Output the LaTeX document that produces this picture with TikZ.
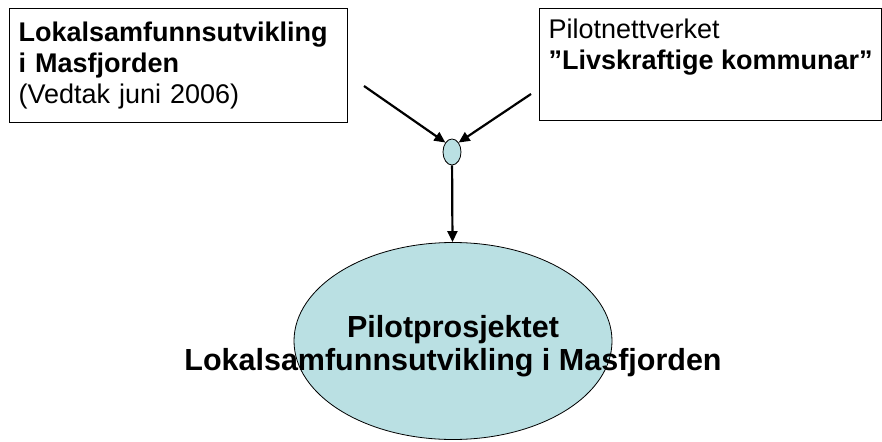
\documentclass[tikz,border=0pt]{standalone}
\usepackage{fontspec}
\setmainfont{Liberation Sans}
\usetikzlibrary{arrows.meta, shapes.geometric}

\definecolor{paleblue}{RGB}{186,224,227}

\tikzset{
  infobox/.style={draw, line width=1.2pt, anchor=north west, align=left,
    inner xsep=9pt, inner ysep=0pt, font=\fontsize{27}{31}\selectfont},
  oval/.style={draw, ellipse, fill=paleblue, line width=0.8pt, inner sep=0pt},
  flow/.style={line width=2.2pt, -{Triangle[length=11pt,width=10pt]}}
}

\begin{document}
\begin{tikzpicture}[x=1pt, y=-1pt]
  \useasboundingbox (0,0) rectangle (882,441);

  \node[infobox, text width=320pt, minimum height=114pt] (local) at (9,8)
    {\textbf{Lokalsamfunnsutvikling}\\ \textbf{i Masfjorden}\\ (Vedtak juni 2006)};
  \node[infobox, minimum width=341pt, minimum height=112pt] (pilot) at (539,8)
    {Pilotnettverket\\ \textbf{”Livskraftige kommunar”}\\ \strut};

  \node[oval, minimum width=18pt, minimum height=26pt] (dot) at (452,152) {};
  \node[oval, minimum width=318pt, minimum height=197pt] (proj) at (453,341) {};
  \node[align=center, font=\fontsize{30.5}{33}\bfseries\selectfont] (projtext) at (453,346)
    {Pilotprosjektet\\ Lokalsamfunnsutvikling i Masfjorden};

  \coordinate (lstart) at (364,86);
  \coordinate (rstart) at (531,94);

  \draw[flow] (lstart) -- (dot.north west);
  \draw[flow] (rstart) -- (dot.north east);
  \draw[flow] (dot) -- (proj);
\end{tikzpicture}
\end{document}
